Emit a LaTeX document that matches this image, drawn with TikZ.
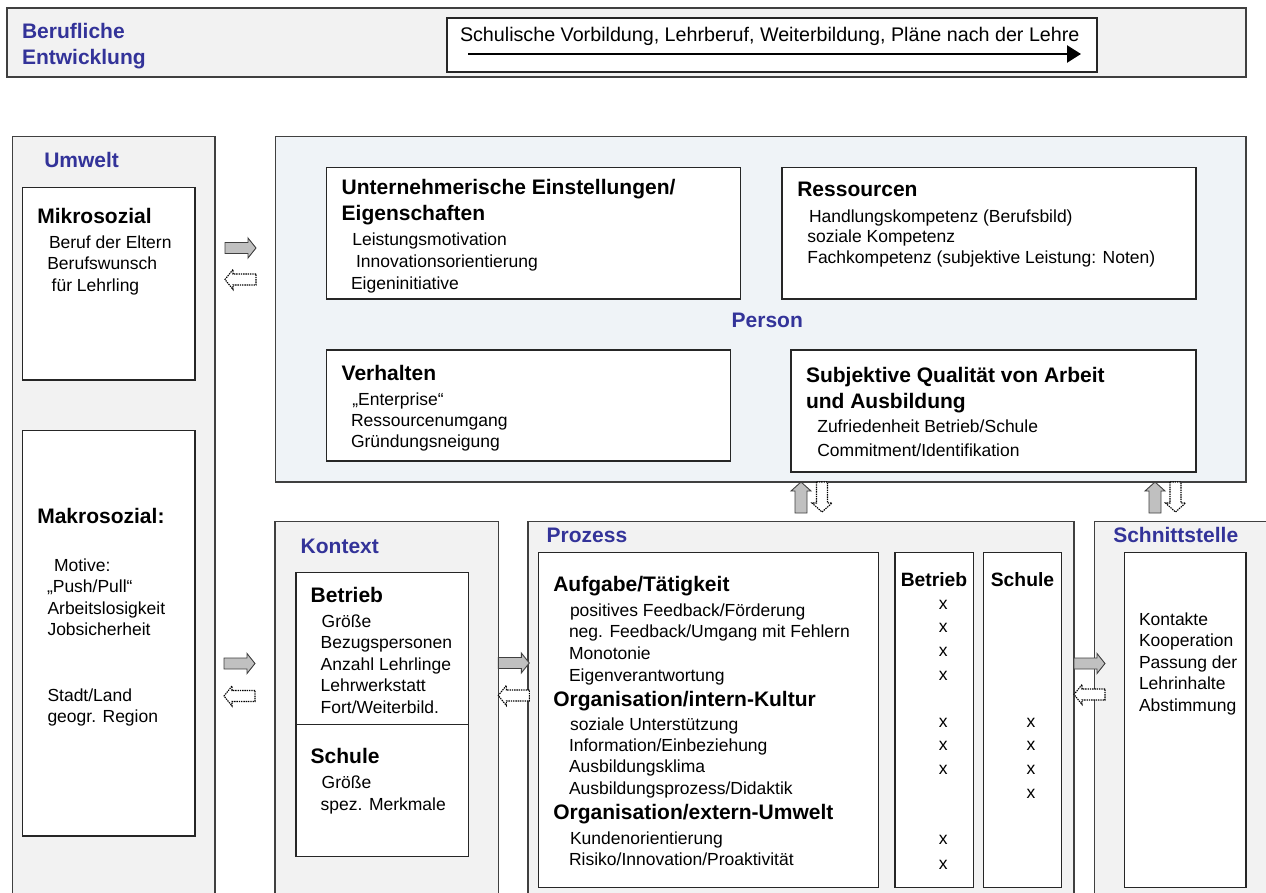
\documentclass[tikz,border=0pt]{standalone}
\usepackage{fontspec}
\setmainfont{Liberation Sans}
\usetikzlibrary{arrows.meta}
\definecolor{panelgray}{HTML}{F2F2F2}
\definecolor{personbg}{HTML}{EFF3F7}
\definecolor{hblue}{HTML}{333399}
\definecolor{bord}{HTML}{404040}
\definecolor{arrgray}{HTML}{C0C0C0}
\begin{document}
\begin{tikzpicture}[x=1pt,y=-1pt,
  panel/.style={draw=bord, line width=1.3pt, fill=panelgray, anchor=north west, inner sep=0pt, outer sep=0pt},
  box/.style={draw=black!85, line width=1.1pt, fill=white, anchor=north west, inner sep=0pt, outer sep=0pt},
  txt/.style={anchor=base west, inner sep=0pt, outer sep=0pt},
  body/.style={txt, font=\fontsize{17.5}{21}\selectfont},
  head/.style={txt, font=\fontsize{21}{25}\selectfont\bfseries},
  bhead/.style={head, text=hblue},
  chead/.style={anchor=base, inner sep=0pt, font=\fontsize{19.3}{23}\selectfont\bfseries},
  xm/.style={anchor=base, inner sep=0pt, font=\fontsize{17.5}{21}\selectfont},
  arrsolid/.style={draw=bord, line width=0.9pt, fill=arrgray, line join=miter},
  arrdot/.style={draw=black, line width=1.1pt, dash pattern=on 1.4pt off 0.9pt, fill=white},
  rarr/.pic={\draw[arrsolid] (0,-5.5) -- (23,-5.5) -- (23,-10) -- (31,0) -- (23,10) -- (23,5.5) -- (0,5.5) -- cycle;},
  larr/.pic={\draw[arrdot] (31,-5.5) -- (8,-5.5) -- (8,-10) -- (0,0) -- (8,10) -- (8,5.5) -- (31,5.5) -- cycle;},
  uarr/.pic={\draw[arrsolid] (-6,31) -- (-6,9) -- (-10,9) -- (0,0) -- (10,9) -- (6,9) -- (6,31) -- cycle;},
  darr/.pic={\draw[arrdot] (-5.5,0) -- (-5.5,21) -- (-10,21) -- (0,30) -- (10,21) -- (5.5,21) -- (5.5,0) -- cycle;}
]
\useasboundingbox (0,0) rectangle (1266,893);
\clip (0,0) rectangle (1266,893);
\fill[white] (0,0) rectangle (1266,893);

% ---------- top bar ----------
\node[panel, minimum width=1239pt, minimum height=69pt] (topbar) at (7,8) {};
\node[box, minimum width=650pt, minimum height=54pt] (topinner) at (447,18) {};
\node[bhead] (bt1) at (22,38.5) {Berufliche};
\node[bhead] (bt2) at (22,64.5) {Entwicklung};
\node[txt, font=\fontsize{19.7}{23}\selectfont] (tt) at (460,42) {Schulische Vorbildung, Lehrberuf, Weiterbildung, Pläne nach der Lehre};
\coordinate (ta) at (468,54);
\coordinate (tb) at (1081,54);
\draw[line width=2.5pt, -{Triangle[length=14pt,width=17pt]}] (ta) -- (tb);

% ---------- Umwelt ----------
\node[panel, minimum width=202.7pt, minimum height=800pt] (umwelt) at (12.3,136.7) {};
\node[bhead] (umweltT) at (44.3,167.7) {Umwelt};
\node[box, minimum width=172.3pt, minimum height=192.7pt] (mikro) at (22.7,187.3) {};
\node[head] (mikroT) at (37.3,223.3) {Mikrosozial};
\node[body] (m1) at (49,248.3) {Beruf der Eltern};
\node[body] (m2) at (47.3,270) {Berufswunsch};
\node[body] (m3) at (51.7,291.7) {für Lehrling};
\node[box, minimum width=172.3pt, minimum height=405.3pt] (makro) at (22.7,430.7) {};
\node[head] (makroT) at (37.3,523) {Makrosozial:};
\node[body] (k1) at (54,571) {Motive:};
\node[body] (k2) at (47,592.5) {„Push/Pull“};
\node[body] (k3) at (47.5,614) {Arbeitslosigkeit};
\node[body] (k4) at (47.5,635.5) {Jobsicherheit};
\node[body] (k5) at (47.5,701) {Stadt/Land};
\node[body] (k6) at (47.5,722.5) {geogr. Region};

% ---------- Person ----------
\node[panel, fill=personbg, minimum width=970.3pt, minimum height=345.3pt] (person) at (275.7,136.7) {};
\node[bhead] (personT) at (731.7,327) {Person};
\node[box, minimum width=414pt, minimum height=131.7pt] (unt) at (326.7,167.3) {};
\node[head] (untT1) at (341.7,195) {Unternehmerische Einstellungen/};
\node[head] (untT2) at (341.7,221) {Eigenschaften};
\node[body] (u1) at (352.3,245.7) {Leistungsmotivation};
\node[body] (u2) at (356,267.3) {Innovationsorientierung};
\node[body] (u3) at (351,289.3) {Eigeninitiative};
\node[box, minimum width=404pt, minimum height=111pt] (verh) at (326.7,350) {};
\node[head] (verhT) at (341.7,380.7) {Verhalten};
\node[body] (v1) at (352.3,405) {„Enterprise“};
\node[body] (v2) at (351,426.7) {Ressourcenumgang};
\node[body] (v3) at (351,447.7) {Gründungsneigung};
\node[box, minimum width=414pt, minimum height=131.7pt] (res) at (782,167.3) {};
\node[head] (resT) at (797.3,196.7) {Ressourcen};
\node[body] (r1) at (809,222.3) {Handlungskompetenz (Berufsbild)};
\node[body] (r2) at (807.3,242.7) {soziale Kompetenz};
\node[body] (r3) at (807.3,263.3) {Fachkompetenz (subjektive Leistung: Noten)};
\node[box, minimum width=405pt, minimum height=122pt] (subj) at (791,350) {};
\node[head] (subjT1) at (806,382.3) {Subjektive Qualität von Arbeit};
\node[head] (subjT2) at (806,408.3) {und Ausbildung};
\node[body] (s1) at (817.3,432.3) {Zufriedenheit Betrieb/Schule};
\node[body] (s2) at (817.3,456.7) {Commitment/Identifikation};

% ---------- Kontext ----------
\node[panel, minimum width=223.3pt, minimum height=400pt] (kontext) at (275,521.7) {};
\node[bhead] (kontextT) at (300.7,553.3) {Kontext};
\node[box, minimum width=172.3pt, minimum height=284pt] (kbox) at (296,572.7) {};
\draw[draw=black!85, line width=1.1pt] (kbox.west |- 0,724.3) -- (kbox.east |- 0,724.3);
\node[head] (kbT) at (310.7,602.7) {Betrieb};
\node[body] (kb1) at (321.7,627.7) {Größe};
\node[body] (kb2) at (320.7,648.3) {Bezugspersonen};
\node[body] (kb3) at (320.7,670) {Anzahl Lehrlinge};
\node[body] (kb4) at (320.7,691.7) {Lehrwerkstatt};
\node[body] (kb5) at (320.7,713.3) {Fort/Weiterbild.};
\node[head] (ksT) at (310.7,763.3) {Schule};
\node[body] (ks1) at (321.7,788.3) {Größe};
\node[body] (ks2) at (320.7,810) {spez. Merkmale};

% ---------- Prozess ----------
\node[panel, minimum width=546pt, minimum height=400pt] (prozess) at (528,521.7) {};
\node[bhead] (prozessT) at (546.7,542.7) {Prozess};
\node[box, minimum width=340pt, minimum height=335pt] (pmain) at (538.3,552.3) {};
\node[box, minimum width=78.3pt, minimum height=335pt] (pbet) at (895,552.3) {};
\node[box, minimum width=78.4pt, minimum height=335pt] (psch) at (983.3,552.3) {};
\node[head] (pa) at (553.3,591.7) {Aufgabe/Tätigkeit};
\node[body] (pa1) at (570,616) {positives Feedback/Förderung};
\node[body] (pa2) at (569,637.7) {neg. Feedback/Umgang mit Fehlern};
\node[body] (pa3) at (569,659) {Monotonie};
\node[body] (pa4) at (569,681) {Eigenverantwortung};
\node[head] (pi) at (553.3,706) {Organisation/intern-Kultur};
\node[body] (pi1) at (570,730) {soziale Unterstützung};
\node[body] (pi2) at (569,751.7) {Information/Einbeziehung};
\node[body] (pi3) at (569,772.7) {Ausbildungsklima};
\node[body] (pi4) at (569,794) {Ausbildungsprozess/Didaktik};
\node[head] (pe) at (553.3,819) {Organisation/extern-Umwelt};
\node[body] (pe1) at (570,844) {Kundenorientierung};
\node[body] (pe2) at (569,865) {Risiko/Innovation/Proaktivität};
\node[chead] (pbetT) at (934,586) {Betrieb};
\node[chead] (pschT) at (1022.5,586) {Schule};
\foreach \y [count=\i] in {609,632,656,680,727,750,774,844.5,869}
  \node[xm] (xb\i) at (943.3,\y) {x};
\foreach \y [count=\i] in {727,750,774,798}
  \node[xm] (xs\i) at (1031,\y) {x};

% ---------- Schnittstelle ----------
\node[panel, minimum width=185pt, minimum height=400pt] (schnitt) at (1094.3,521.7) {};
\node[bhead] (schnittT) at (1113.3,542.7) {Schnittstelle};
\node[box, minimum width=121.7pt, minimum height=335pt] (sbox) at (1124.3,552.3) {};
\node[body] (sb1) at (1139,625) {Kontakte};
\node[body] (sb2) at (1139,646) {Kooperation};
\node[body] (sb3) at (1139,668) {Passung der};
\node[body] (sb4) at (1139,689) {Lehrinhalte};
\node[body] (sb5) at (1139,711) {Abstimmung};

% ---------- block arrows ----------
\pic at (225,248) {rarr};
\pic at (225,279.5) {larr};
\pic at (224,663.5) {rarr};
\pic at (224,696) {larr};
\pic at (kontext.east |- 0,663) {rarr};
\pic at (kontext.east |- 0,695.5) {larr};
\pic at (prozess.east |- 0,663.5) {rarr};
\pic at (prozess.east |- 0,694.5) {larr};
\pic at (801,0 |- person.south) {uarr};
\pic at (822,0 |- person.south) {darr};
\pic at (1155,0 |- person.south) {uarr};
\pic at (1175.5,0 |- person.south) {darr};
\end{tikzpicture}
\end{document}
